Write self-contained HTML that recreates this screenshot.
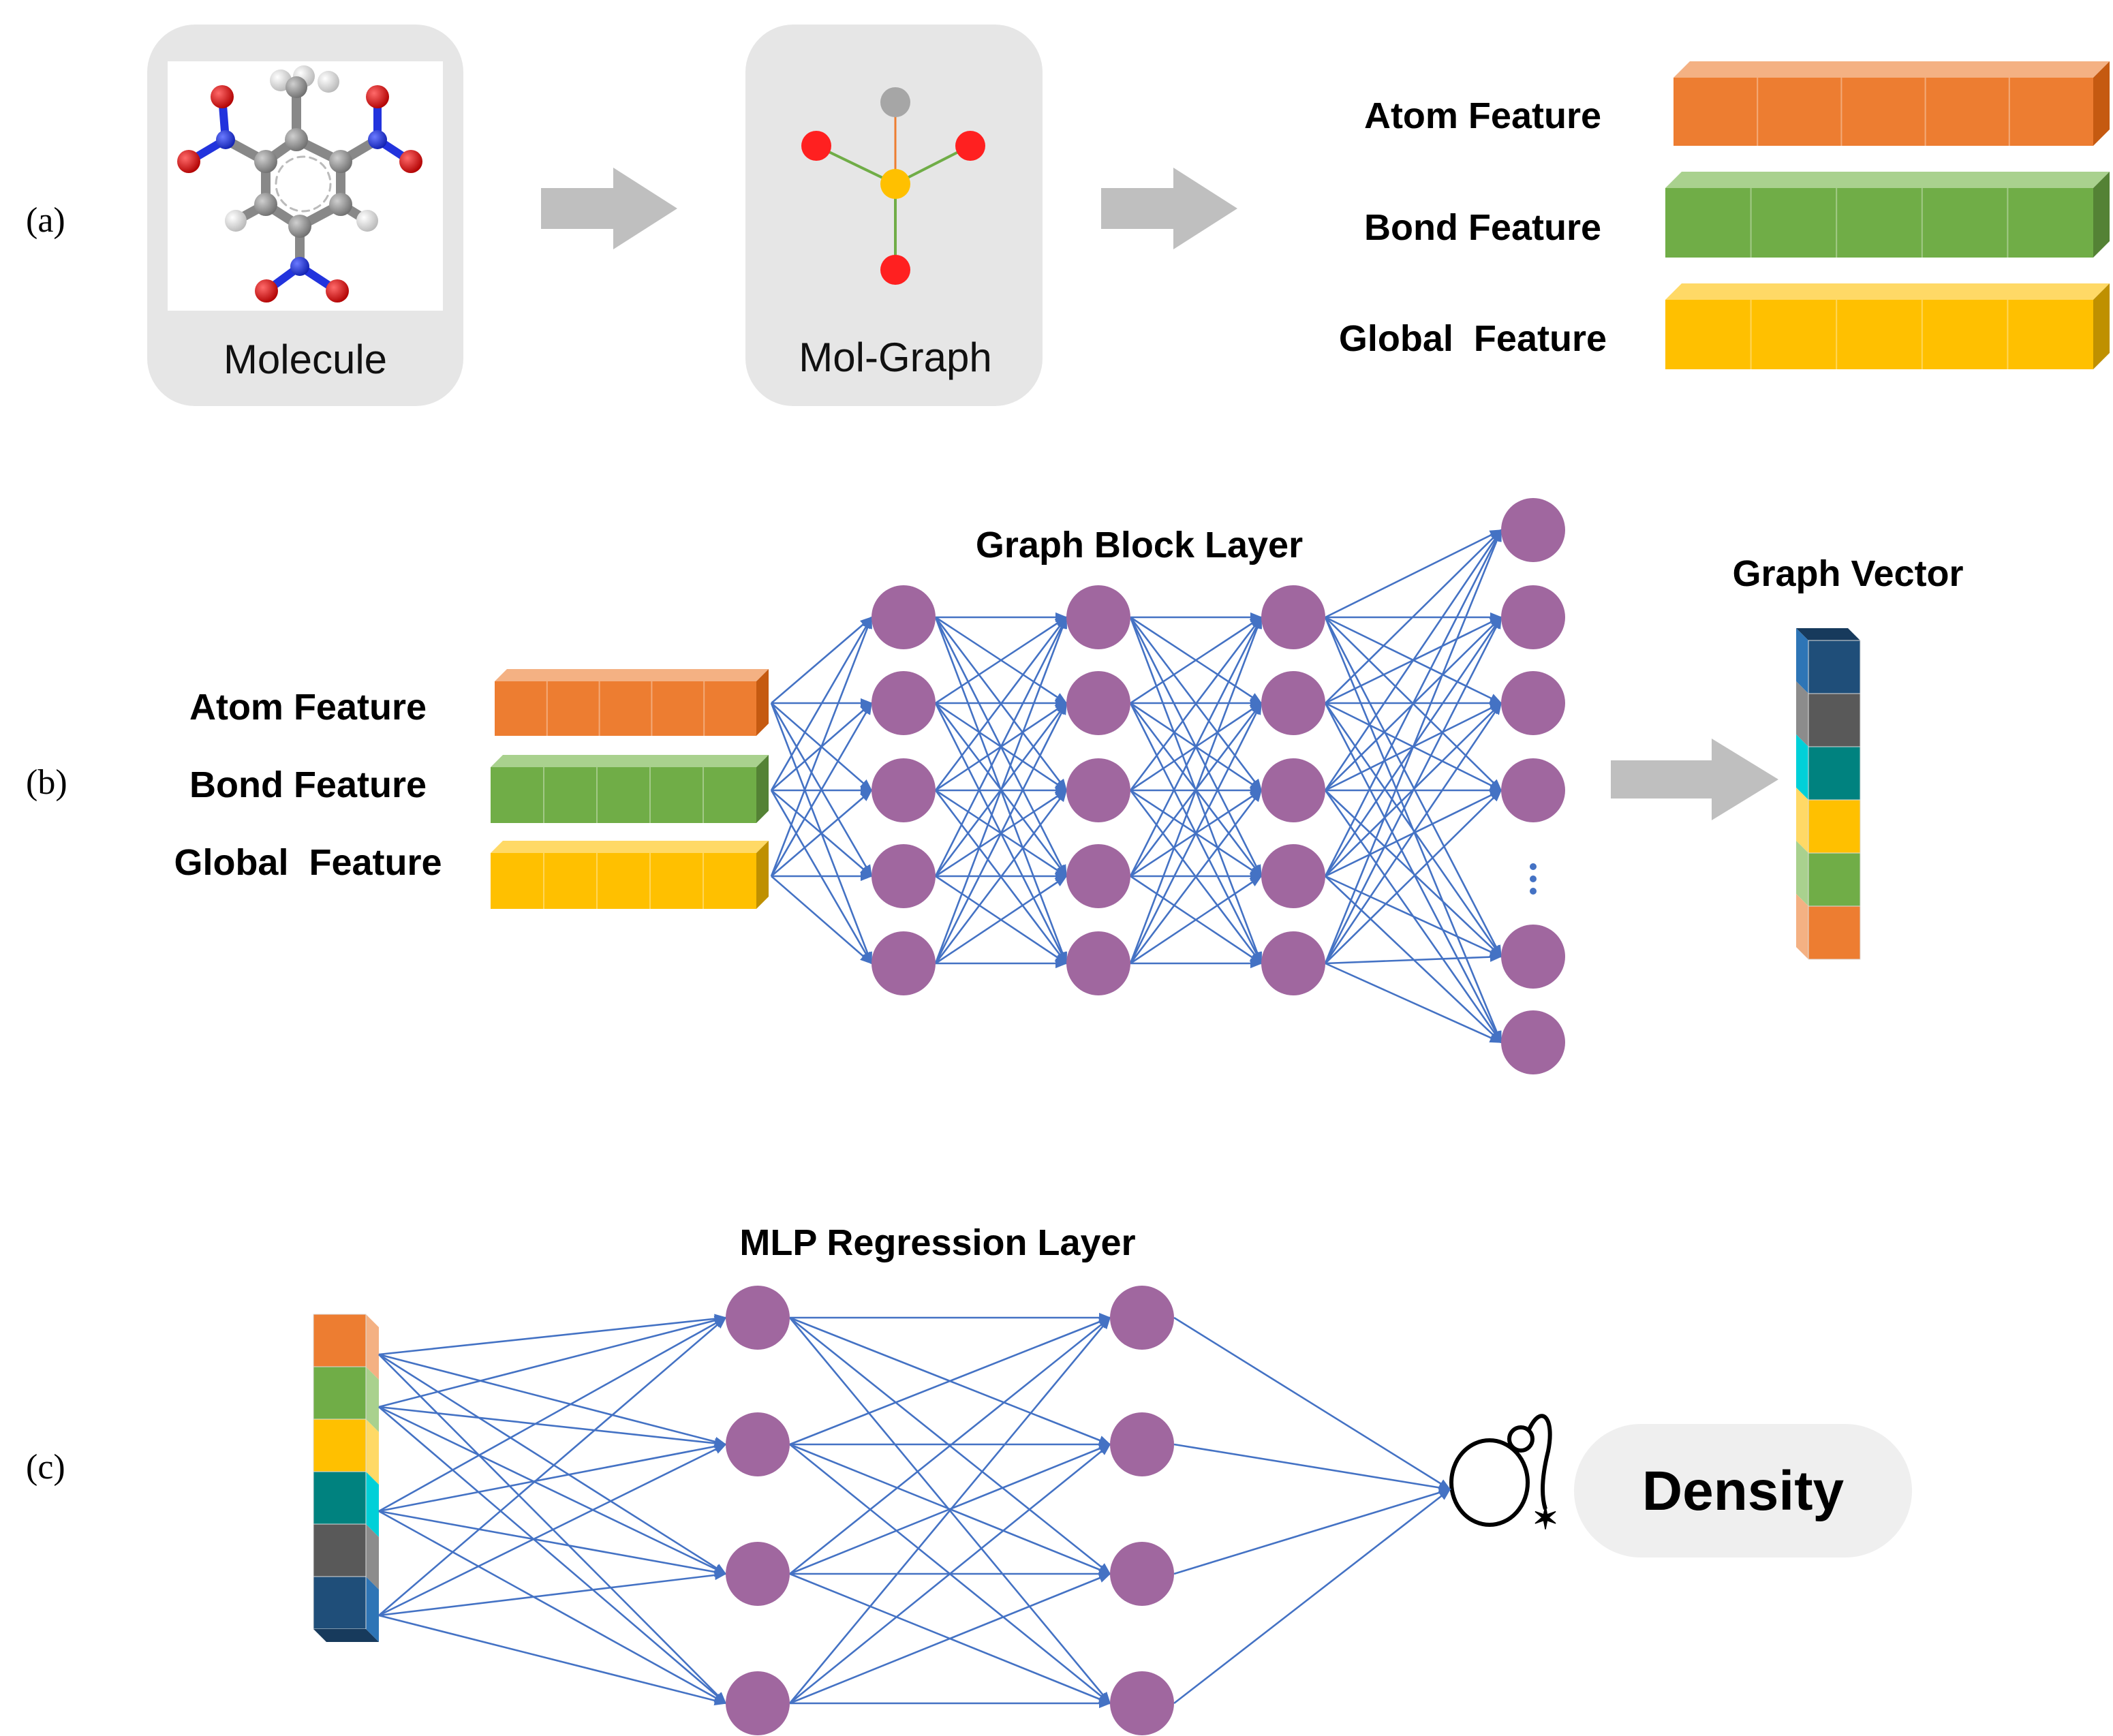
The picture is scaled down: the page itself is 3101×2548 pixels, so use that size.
<!DOCTYPE html>
<html><head><meta charset="utf-8"><style>
html,body{margin:0;padding:0;background:#fff;}
svg{display:block;}
text{font-family:"Liberation Sans",sans-serif;}
.lab{font-family:"Liberation Serif",serif;font-size:52px;}
.b{font-weight:bold;font-size:54px;}
</style></head><body>
<svg id="s" width="3101" height="2548" viewBox="0 0 3101 2548" xmlns="http://www.w3.org/2000/svg">
<defs>
<marker id="ar2" viewBox="0 0 10 10" refX="9" refY="5" markerWidth="18" markerHeight="18" markerUnits="userSpaceOnUse" orient="auto"><path d="M0,1 L10,5 L0,9 z" fill="#4472c4"/></marker>
<radialGradient id="gC" cx="0.35" cy="0.35" r="0.7"><stop offset="0" stop-color="#cfcfcf"/><stop offset="1" stop-color="#6e6e6e"/></radialGradient>
<radialGradient id="gO" cx="0.35" cy="0.35" r="0.7"><stop offset="0" stop-color="#ff6a6a"/><stop offset="1" stop-color="#b00000"/></radialGradient>
<radialGradient id="gN" cx="0.35" cy="0.35" r="0.7"><stop offset="0" stop-color="#6a7aff"/><stop offset="1" stop-color="#1020b0"/></radialGradient>
<radialGradient id="gH" cx="0.35" cy="0.35" r="0.7"><stop offset="0" stop-color="#ffffff"/><stop offset="1" stop-color="#b8b8b8"/></radialGradient>
</defs>
<!-- (a) -->
<text class="lab" x="38" y="340">(a)</text>
<rect x="216" y="36" width="464" height="560" rx="70" fill="#e6e6e6"/>
<rect x="246" y="90" width="404" height="366" fill="#fff"/>
<g stroke-linecap="round">
<g stroke="#888" stroke-width="14">
<line x1="435" y1="205" x2="390" y2="237"/><line x1="435" y1="205" x2="500" y2="237"/>
<line x1="390" y1="237" x2="390" y2="300"/><line x1="500" y1="237" x2="500" y2="300"/>
<line x1="390" y1="300" x2="440" y2="332"/><line x1="500" y1="300" x2="440" y2="332"/>
<line x1="435" y1="205" x2="435" y2="125"/>
<line x1="390" y1="237" x2="331" y2="205"/><line x1="500" y1="237" x2="554" y2="205"/>
<line x1="440" y1="332" x2="440" y2="391"/>
<line x1="390" y1="300" x2="346" y2="324"/><line x1="500" y1="300" x2="539" y2="324"/>
</g>
<g stroke="#2233dd" stroke-width="12">
<line x1="331" y1="205" x2="326" y2="142"/><line x1="331" y1="205" x2="277" y2="237"/>
<line x1="554" y1="205" x2="554" y2="142"/><line x1="554" y1="205" x2="603" y2="237"/>
<line x1="440" y1="391" x2="391" y2="427"/><line x1="440" y1="391" x2="495" y2="427"/>
</g>
<circle cx="445" cy="270" r="40" fill="none" stroke="#bbb" stroke-width="3" stroke-dasharray="10 8"/>
</g>
<g>
<circle cx="412" cy="118" r="16" fill="url(#gH)"/><circle cx="482" cy="120" r="16" fill="url(#gH)"/><circle cx="446" cy="112" r="16" fill="url(#gH)"/>
<circle cx="435" cy="128" r="16" fill="url(#gC)"/>
<circle cx="346" cy="324" r="16" fill="url(#gH)"/><circle cx="539" cy="324" r="16" fill="url(#gH)"/>
<circle cx="435" cy="205" r="17" fill="url(#gC)"/><circle cx="390" cy="237" r="17" fill="url(#gC)"/><circle cx="500" cy="237" r="17" fill="url(#gC)"/>
<circle cx="390" cy="300" r="17" fill="url(#gC)"/><circle cx="500" cy="300" r="17" fill="url(#gC)"/><circle cx="440" cy="332" r="17" fill="url(#gC)"/>
<circle cx="331" cy="205" r="14" fill="url(#gN)"/><circle cx="554" cy="205" r="14" fill="url(#gN)"/><circle cx="440" cy="391" r="14" fill="url(#gN)"/>
<g fill="url(#gO)"><circle cx="326" cy="142" r="17"/><circle cx="277" cy="237" r="17"/><circle cx="554" cy="142" r="17"/><circle cx="603" cy="237" r="17"/><circle cx="391" cy="427" r="17"/><circle cx="495" cy="427" r="17"/></g>
</g>
<text x="448" y="548" text-anchor="middle" font-size="60" fill="#111">Molecule</text>
<polygon points="794,276 900,276 900,246 994,306 900,366 900,336 794,336" fill="#bfbfbf"/>
<rect x="1094" y="36" width="436" height="560" rx="70" fill="#e6e6e6"/>
<line x1="1314" y1="150" x2="1314" y2="270" stroke="#ed7d31" stroke-width="3"/>
<g stroke="#70ad47" stroke-width="4"><line x1="1198" y1="214" x2="1314" y2="270"/><line x1="1424" y1="214" x2="1314" y2="270"/><line x1="1314" y1="270" x2="1314" y2="396"/></g>
<circle cx="1314" cy="150" r="22" fill="#a6a6a6"/><circle cx="1198" cy="214" r="22" fill="#ff2020"/><circle cx="1424" cy="214" r="22" fill="#ff2020"/><circle cx="1314" cy="270" r="22" fill="#ffc000"/><circle cx="1314" cy="396" r="22" fill="#ff2020"/>
<text x="1314" y="545" text-anchor="middle" font-size="60" fill="#111">Mol-Graph</text>
<polygon points="1616,276 1722,276 1722,246 1816,306 1722,366 1722,336 1616,336" fill="#bfbfbf"/>
<text class="b" x="2350" y="188" text-anchor="end">Atom Feature</text>
<text class="b" x="2350" y="352" text-anchor="end">Bond Feature</text>
<text class="b" x="2358" y="515" text-anchor="end" xml:space="preserve">Global  Feature</text>
<g id="bars"></g>
<!-- (b) -->
<text class="lab" x="38" y="1165">(b)</text>
<text class="b" x="452" y="1056" text-anchor="middle">Atom Feature</text>
<text class="b" x="452" y="1170" text-anchor="middle">Bond Feature</text>
<text class="b" x="452" y="1284" text-anchor="middle" xml:space="preserve">Global  Feature</text>
<text class="b" x="1672" y="818" text-anchor="middle">Graph Block Layer</text>
<text class="b" x="2712" y="860" text-anchor="middle">Graph Vector</text>
<polygon points="2364,1116 2512,1116 2512,1084 2610,1144 2512,1204 2512,1172 2364,1172" fill="#bfbfbf"/>
<g fill="#4472c4"><circle cx="2250" cy="1272" r="5"/><circle cx="2250" cy="1290" r="5"/><circle cx="2250" cy="1308" r="5"/></g>
<!-- (c) -->
<text class="lab" x="38" y="2170">(c)</text>
<text class="b" x="1376" y="1842" text-anchor="middle">MLP Regression Layer</text>
<rect x="2310" y="2090" width="496" height="196" rx="98" fill="#efefef"/>
<text x="2558" y="2216" text-anchor="middle" font-size="82" font-weight="bold" fill="#000">Density</text>
<g fill="none" stroke="#000" stroke-width="6">
<ellipse cx="2186" cy="2176" rx="56" ry="62"/>
<circle cx="2232" cy="2112" r="17" fill="#fff"/>
<path d="M2244,2098 C2262,2060 2282,2080 2272,2130 C2262,2170 2262,2196 2268,2215"/>
</g>
<text x="2268" y="2244" text-anchor="middle" font-size="46" font-weight="bold">✶</text>
<g id="net"></g>
</svg>
<script>
var NS="http://www.w3.org/2000/svg",s=document.getElementById('s'),net=document.getElementById('net'),bars=document.getElementById('bars');
function el(t,a,p){var e=document.createElementNS(NS,t);for(var k in a)e.setAttribute(k,a[k]);(p||net).appendChild(e);return e;}
function hbar(x,y,w,h,d,c,top,side,p){
 el('polygon',{points:[x,y,x+d,y-d,x+w+d,y-d,x+w,y].join(','),fill:top},p);
 el('polygon',{points:[x+w,y,x+w+d,y-d,x+w+d,y+h-d,x+w,y+h].join(','),fill:side},p);
 el('rect',{x:x,y:y,width:w,height:h,fill:c},p);
 for(var i=1;i<5;i++)el('line',{x1:x+w*i/5,y1:y,x2:x+w*i/5,y2:y+h,stroke:'rgba(255,255,255,0.35)','stroke-width':2},p);
}
var OR=['#ed7d31','#f4b183','#c55a11'],GR=['#70ad47','#a9d18e','#548235'],YE=['#ffc000','#ffd966','#bf9000'];
hbar(2456,114,616,100,24,OR[0],OR[1],OR[2],bars);
hbar(2444,276,628,102,24,GR[0],GR[1],GR[2],bars);
hbar(2444,440,628,102,24,YE[0],YE[1],YE[2],bars);
hbar(726,1000,384,80,18,OR[0],OR[1],OR[2],bars);
hbar(720,1126,390,82,18,GR[0],GR[1],GR[2],bars);
hbar(720,1252,390,82,18,YE[0],YE[1],YE[2],bars);
var V=[['#1f4e79','#2e75b6'],['#595959','#8c8c8c'],['#00827f','#00d0d8'],['#ffc000','#ffd966'],['#70ad47','#a9d18e'],['#ed7d31','#f4b183']];
el('polygon',{points:'2636,922 2654,940 2730,940 2712,922',fill:'#173a5c'},bars);
for(var i=0;i<6;i++){var y=940+i*78;el('polygon',{points:[2636,y-18,2654,y,2654,y+78,2636,y+60].join(','),fill:V[i][1]},bars);el('rect',{x:2654,y:y,width:76,height:78,fill:V[i][0],stroke:'#ddd','stroke-width':1},bars);}
for(var i=0;i<6;i++){var c=V[5-i],y=1929+i*77;el('polygon',{points:[537,y,556,y+19,556,y+96,537,y+77].join(','),fill:c[1]},bars);el('rect',{x:460,y:y,width:77,height:77,fill:c[0],stroke:'#ddd','stroke-width':1},bars);}
el('polygon',{points:'460,2391 537,2391 556,2410 479,2410',fill:'#173a5c'},bars);
function ln(x1,y1,x2,y2){el('line',{x1:x1,y1:y1,x2:x2,y2:y2,stroke:'#4472c4','stroke-width':2.6,'marker-end':'url(#ar2)'});}
var R=47,rows=[906,1032,1160,1286,1414],cols=[1326,1612,1898],last=[778,906,1032,1160,1404,1530];
[1032,1160,1286].forEach(function(sy){rows.forEach(function(ty){ln(1132,sy,cols[0]-R,ty);});});
for(var c=0;c<2;c++)rows.forEach(function(a){rows.forEach(function(b){ln(cols[c]+R,a,cols[c+1]-R,b);});});
rows.forEach(function(a){last.forEach(function(b){ln(cols[2]+R,a,2250-R,b);});});
var m=[1934,2120,2310,2500];
[1988,2065,2218,2371].forEach(function(a){m.forEach(function(b){ln(556,a,1112-R,b);});});
m.forEach(function(a){m.forEach(function(b){ln(1112+R,a,1676-R,b);});});
m.forEach(function(a){ln(1676+R,a,2128,2186);});
function node(x,y){el('circle',{cx:x,cy:y,r:R,fill:'#a0679f'});}
cols.forEach(function(x){rows.forEach(function(y){node(x,y);});});
last.forEach(function(y){node(2250,y);});
[1112,1676].forEach(function(x){m.forEach(function(y){node(x,y);});});
</script>
</body></html>
